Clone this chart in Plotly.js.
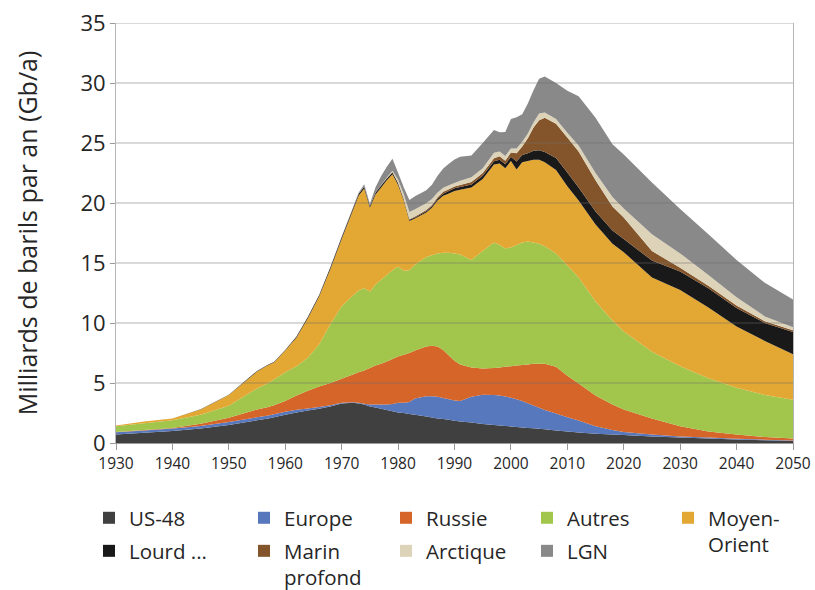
<!DOCTYPE html>
<html>
<head>
<meta charset="utf-8">
<script src="https://cdn.plot.ly/plotly-3.0.1.min.js"></script>
<style>html,body{margin:0;padding:0;background:#fff;}#chart{width:815px;height:590px;}</style>
</head>
<body>
<div id="chart"></div>
<script>
const years = [1930,1935,1940,1945,1950,1955,1957,1958,1960,1962,1964,1966,1968,
  1970,1972,1973,1974,1975,1976,1977,1978,1979,1980,1981,1982,1983,
  1985,1986,1987,1988,1989,1990,1991,1993,1995,1997,1998,1999,
  2000,2001,2002,2003,2004,2005,2006,
  2008,2010,2012,2015,2018,2020,
  2025,2030,2035,2040,2045,2050];

const us48 = [.70,.85,1.00,1.20,1.50,1.90,2.05,2.15,2.35,2.55,2.70,2.85,3.05,
  3.30,3.35,3.30,3.20,3.05,2.95,2.85,2.75,2.65,2.55,2.50,2.42,2.35,
  2.20,2.12,2.05,2.00,1.93,1.85,1.80,1.70,1.58,1.50,1.46,1.42,
  1.38,1.34,1.30,1.26,1.22,1.18,1.14,
  1.05,.95,.88,.78,.70,.66,
  .55,.45,.37,.30,.23,.16];

const europe = [.20,.20,.20,.22,.25,.25,.25,.25,.25,.22,.18,.15,.10,
  .06,.05,.05,.08,.15,.25,.35,.45,.60,.80,.85,1.00,1.35,
  1.70,1.78,1.80,1.75,1.72,1.70,1.70,2.15,2.45,2.50,2.50,2.45,
  2.40,2.30,2.20,2.05,1.90,1.75,1.62,
  1.40,1.20,1.00,.62,.38,.26,
  .15,.10,.08,.06,.05,.04];

const russie = [.02,.03,.05,.18,.35,.65,.70,.75,.90,1.18,1.47,1.70,1.85,
  1.99,2.30,2.55,2.77,3.05,3.25,3.40,3.60,3.75,3.85,4.00,4.08,4.00,
  4.15,4.20,4.20,4.00,3.65,3.30,3.05,2.45,2.17,2.25,2.34,2.48,
  2.62,2.81,3.00,3.24,3.48,3.67,3.84,
  3.90,3.45,3.07,2.55,2.12,1.88,
  1.35,.85,.50,.34,.22,.18];

const autres = [.48,.57,.65,.75,1.00,1.75,2.00,2.15,2.40,2.45,2.75,3.50,4.90,
  6.05,6.60,6.80,6.85,6.35,6.75,7.00,7.20,7.40,7.50,7.00,6.90,7.15,
  7.45,7.55,7.75,8.10,8.55,8.95,9.15,8.95,9.80,10.45,10.20,9.85,
  9.90,10.05,10.20,10.25,10.10,10.00,9.80,
  9.45,9.20,8.85,7.85,7.00,6.50,
  5.55,5.00,4.45,3.90,3.50,3.22];

const moyenOrient = [.05,.15,.15,.45,.90,1.40,1.50,1.40,1.80,2.40,3.30,4.00,4.60,
  5.60,7.10,7.90,8.30,7.00,7.50,7.70,7.90,8.00,6.80,5.85,4.10,3.85,
  3.70,3.95,4.40,4.75,4.95,5.20,5.40,6.05,6.00,6.50,6.80,6.70,
  7.20,6.30,6.70,6.70,6.90,7.00,7.00,
  6.95,6.60,6.40,6.40,6.40,6.60,
  6.20,6.35,5.90,5.10,4.50,3.80];

const lourd = [0,0,0,.02,.03,.05,.05,.05,.06,.08,.10,.12,.14,
  .15,.15,.15,.15,.15,.15,.15,.15,.15,.15,.12,.10,.10,
  .12,.13,.15,.18,.20,.22,.24,.25,.28,.28,.30,.32,
  .35,.65,.60,.65,.75,.80,.85,
  1.00,1.15,1.10,1.10,1.10,1.10,
  1.40,1.55,1.60,1.55,1.50,1.85];

const marin = [0,0,0,0,0,0,0,0,0,0,0,0,0,
  .02,.02,.02,.02,.02,.02,.02,.02,.03,.03,.04,.05,.07,
  .10,.10,.12,.15,.15,.15,.17,.20,.22,.25,.30,.30,
  .35,.70,.70,1.25,1.95,2.50,2.85,
  2.85,2.90,3.00,2.60,2.00,1.80,
  .80,.30,.20,.20,.15,.15];

const arctique = [0,0,0,0,0,0,0,0,0,0,0,0,0,
  0,0,0,0,0,0,.03,.05,.10,.25,.40,.60,.60,
  .55,.50,.40,.35,.32,.30,.35,.40,.40,.45,.40,.40,
  .35,.40,.40,.40,.40,.55,.45,
  .40,.40,.50,.60,.80,.75,
  1.40,1.20,.90,.70,.40,.25];

const lgn = [0,0,0,0,0,0,0,0,0,0,0,0,0,
  .02,.05,.08,.20,.15,.45,.75,.90,1.00,.60,.55,1.00,1.10,
  1.10,1.20,1.40,1.60,1.80,1.95,2.00,1.80,2.10,1.90,1.60,2.00,
  2.45,2.60,2.30,2.50,2.70,2.90,3.00,
  3.00,3.50,4.10,4.60,4.40,4.50,
  4.30,3.70,3.40,3.10,2.80,2.30];

const seriesNames = ['US-48','Europe','Russie','Autres','Moyen-<br>Orient','Lourd ...','Marin<br>profond','Arctique','LGN'];
const seriesValues = [us48, europe, russie, autres, moyenOrient, lourd, marin, arctique, lgn];
const seriesColors = ['#404040','#5778BC','#D6652A','#A2C64B','#E3A733','#1A1919','#84552B','#DDD3B8','#898989'];
// legend grid of the reference: 5 columns x 2 rows
const legendCol = [0,1,2,3,4,0,1,2,3];
const legendRow = [0,0,0,0,0,1,1,1,1];

const xTicks = [1930,1940,1950,1960,1970,1980,1990,2000,2010,2020,2030,2040,2050];
const yTicks = [0,5,10,15,20,25,30,35];

const traces = [];
seriesValues.forEach((vals, i) => {
  traces.push({
    type: 'scatter', mode: 'none', x: years, y: vals,
    stackgroup: 'one', fillcolor: seriesColors[i], line: {width: 0},
    name: seriesNames[i], showlegend: false, hoverinfo: 'x+y+name'
  });
});

const legendX = [0.1092, 0.2994, 0.4736, 0.6466, 0.8196];
const legendY = [0.156, 0.1];
const layoutLegends = {};
seriesValues.forEach((vals, i) => {
  const id = i === 0 ? 'legend' : 'legend' + (i + 1);
  // legend entry with a square swatch
  traces.push({
    type: 'bar', x: [null], y: [null], name: seriesNames[i],
    marker: {color: seriesColors[i]}, legend: id,
    showlegend: true, hoverinfo: 'skip'
  });
  layoutLegends[id] = {
    orientation: 'h', xref: 'container', yref: 'container',
    xanchor: 'left', yanchor: 'top',
    x: legendX[legendCol[i]], y: legendY[legendRow[i]],
    font: {family: 'Open Sans, sans-serif', size: 20.5, color: '#262626'},
    valign: 'top', bgcolor: 'rgba(0,0,0,0)', itemclick: false
  };
});

const gridShapes = yTicks.filter(v => v > 0).map(v => ({
  type: 'line', xref: 'paper', x0: 0, x1: 1, yref: 'y', y0: v, y1: v,
  line: {color: 'rgba(110,110,110,0.35)', width: 1.5}, layer: 'above'
}));

const layout = Object.assign({
  width: 815, height: 590,
  margin: {l: 116, r: 22, t: 23, b: 147},
  paper_bgcolor: '#ffffff', plot_bgcolor: '#ffffff',
  font: {family: 'Open Sans, sans-serif', color: '#262626'},
  showlegend: true,
  xaxis: {
    range: [1930, 2050], tickvals: xTicks, ticktext: xTicks.map(String),
    showgrid: false, zeroline: false, showline: true, linecolor: '#9a9a9a', linewidth: 1,
    ticks: 'outside', ticklen: 6, tickcolor: '#9a9a9a',
    tickfont: {size: 15.5, color: '#262626'}
  },
  yaxis: {
    range: [0, 35], tickvals: yTicks, ticktext: yTicks.map(String),
    showgrid: false, zeroline: false, showline: true, mirror: true, linecolor: '#b5b5b5', linewidth: 1,
    ticks: 'outside', ticklen: 5, tickcolor: '#9a9a9a',
    tickfont: {size: 22, color: '#262626'},
    title: {text: 'Milliards de barils par an (Gb/a)', font: {size: 25, color: '#262626'}, standoff: 35}
  },
  shapes: gridShapes,
  bargap: 0
}, layoutLegends);

Plotly.newPlot('chart', traces, layout, {displayModeBar: false, staticPlot: true});
</script>
</body>
</html>
